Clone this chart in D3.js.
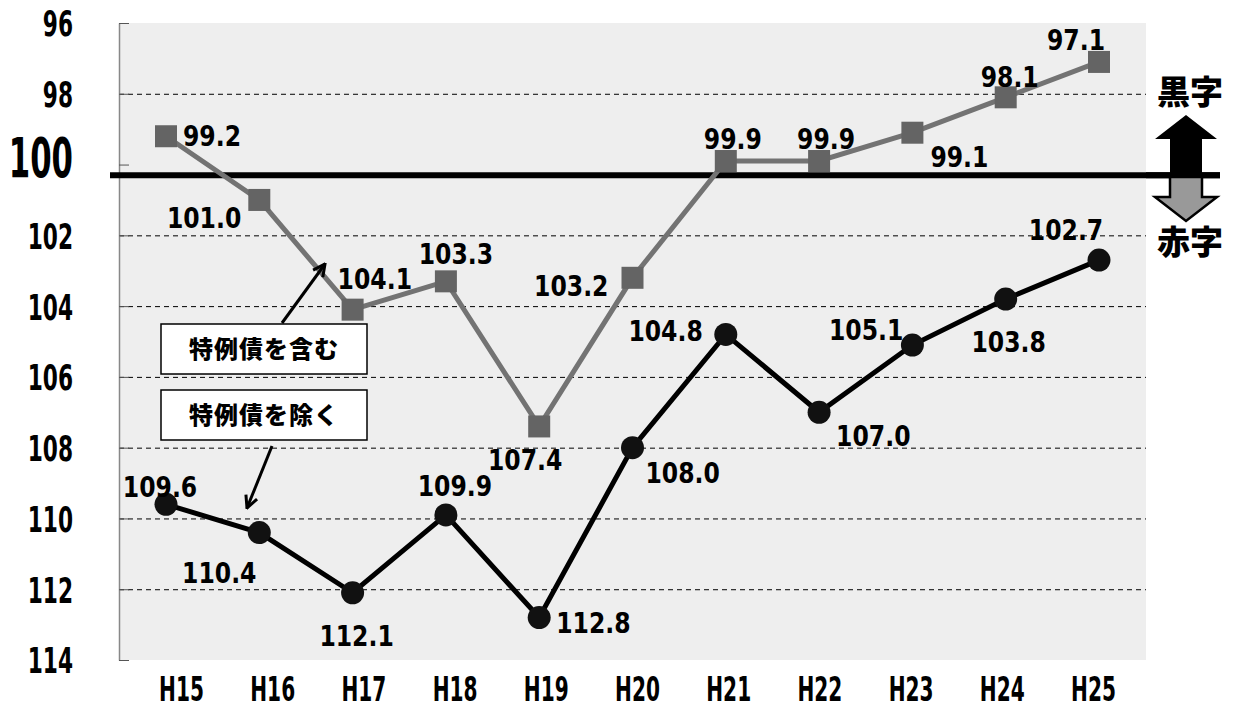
<!DOCTYPE html>
<html>
<head>
<meta charset="utf-8">
<script src="https://cdn.jsdelivr.net/npm/d3@7"></script>
<style>
  body { margin: 0; background: #fff; }
  svg { display: block; }
  .num { font-family: 'DejaVu Sans', sans-serif; }
</style>
</head>
<body>
<div id="chart"></div>
<script>
// chart values
var years = ['H15', 'H16', 'H17', 'H18', 'H19', 'H20', 'H21', 'H22', 'H23', 'H24', 'H25']
var withSpecial = [99.2, 101.0, 104.1, 103.3, 107.4, 103.2, 99.9, 99.9, 99.1, 98.1, 97.1]
var withoutSpecial = [109.6, 110.4, 112.1, 109.9, 112.8, 108.0, 104.8, 107.0, 105.1, 103.8, 102.7]
var yTicks = [96, 98, 100, 102, 104, 106, 108, 110, 112, 114]
var gridTicks = [98, 102, 104, 106, 108, 110, 112]
var seriesNames = ['特例債を含む', '特例債を除く']
var sideLabels = ['黒字', '赤字']
var splitValue = 100.3

// label placement (dx, dy, anchor) relative to each point
var posWith = [[17, 0, 'start'], [-18, 18, 'end'], [-15, -31, 'start'], [10, -27, 'middle'], [-14, 33, 'middle'],
  [-24, 8, 'end'], [7, -22, 'middle'], [7, -22, 'middle'], [18, 24, 'start'], [4, -20, 'middle'], [-23, -22, 'middle']]
var posWithout = [[-6, -17, 'middle'], [-40, 40, 'middle'], [4, 43, 'middle'], [9, -29, 'middle'], [17, 5, 'start'],
  [13, 25, 'start'], [-23, -4, 'end'], [17, 24, 'start'], [-9, -15, 'end'], [3, 43, 'middle'], [-33, -30, 'middle']]

var W = 1235, H = 708
var plotL = 119, plotR = 1146, plotT = 23, plotB = 660
var jpFont = "'Noto Sans CJK JP', sans-serif"

// squeeze text horizontally to imitate a condensed face
function squeeze(sel, k) {
  sel.each(function () {
    var len = this.getComputedTextLength()
    d3.select(this).attr('textLength', len * k).attr('lengthAdjust', 'spacingAndGlyphs')
  })
}

var svg = d3.select('#chart').append('svg')
  .attr('width', W)
  .attr('height', H)

var x = d3.scalePoint().domain(years).range([166, 1099])
var xLab = d3.scalePoint().domain(years).range([181, 1093])
var y = d3.scaleLinear().domain([96, 114]).range([plotT, plotB])

// plot background
svg.append('rect')
  .attr('x', plotL).attr('y', plotT)
  .attr('width', plotR - plotL).attr('height', plotB - plotT)
  .attr('fill', '#eeeeee')

// dashed grid
svg.append('g')
  .attr('transform', 'translate(' + plotL + ',0)')
  .call(d3.axisRight(y).tickValues(gridTicks).tickSize(plotR - plotL).tickFormat(''))
  .call(function (g) {
    g.select('.domain').remove()
    g.selectAll('line').attr('stroke', '#000').attr('stroke-width', 1).attr('stroke-dasharray', '5,4')
  })

// y axis
var yAxis = svg.append('g')
  .attr('transform', 'translate(' + plotL + ',0)')
  .call(d3.axisLeft(y).tickValues(yTicks).tickSize(-10).tickSizeOuter(0).tickPadding(46))
yAxis.select('.domain').attr('stroke', '#888').attr('stroke-width', 1.5)
yAxis.selectAll('line').attr('stroke', '#555')
yAxis.selectAll('text')
  .attr('class', 'num')
  .attr('font-family', null)
  .attr('font-weight', 'bold')
  .attr('font-size', 35)
  .attr('dy', '0.37em')
  .attr('fill', '#000')
yAxis.selectAll('.tick').filter(function (d) { return d === 100 })
  .select('text')
  .attr('font-size', 55)
  .attr('dy', '0.22em')
squeeze(yAxis.selectAll('text'), 0.62)
yAxis.selectAll('.tick').filter(function (d) { return d === 100 })
  .select('text').call(function (t) {
    var n = t.node()
    t.attr('textLength', null)
    var len = n.getComputedTextLength()
    t.attr('textLength', len * 0.56)
  })

// x labels
var xAxis = svg.append('g')
  .attr('transform', 'translate(0,' + 689 + ')')
  .call(d3.axisBottom(xLab).tickSize(0).tickPadding(0))
xAxis.select('.domain').remove()
xAxis.selectAll('text')
  .attr('class', 'num')
  .attr('font-family', null)
  .attr('font-weight', 'bold')
  .attr('font-size', 33)
  .attr('dy', '0.36em')
  .attr('fill', '#000')
squeeze(xAxis.selectAll('text'), 0.61)

// break-even line
svg.append('line')
  .attr('x1', 110).attr('x2', 1220)
  .attr('y1', y(splitValue)).attr('y2', y(splitValue))
  .attr('stroke', '#000').attr('stroke-width', 6)

var line = d3.line()
  .x(function (d, i) { return x(years[i]) })
  .y(function (d) { return y(d) })

// series with special bonds (grey squares)
svg.append('path')
  .datum(withSpecial)
  .attr('d', line)
  .attr('fill', 'none')
  .attr('stroke', '#737373')
  .attr('stroke-width', 5)

svg.selectAll('.sq')
  .data(withSpecial)
  .enter().append('rect')
  .attr('class', 'sq')
  .attr('x', function (d, i) { return x(years[i]) - 11 })
  .attr('y', function (d) { return y(d) - 11 })
  .attr('width', 22).attr('height', 22)
  .attr('fill', '#646464')

// series without special bonds (black circles)
svg.append('path')
  .datum(withoutSpecial)
  .attr('d', line)
  .attr('fill', 'none')
  .attr('stroke', '#000')
  .attr('stroke-width', 5)

svg.selectAll('.dot')
  .data(withoutSpecial)
  .enter().append('circle')
  .attr('class', 'dot')
  .attr('cx', function (d, i) { return x(years[i]) })
  .attr('cy', function (d) { return y(d) })
  .attr('r', 11.5)
  .attr('fill', '#111')

// value labels
function addLabels(values, pos) {
  var t = svg.append('g').selectAll('text')
    .data(values)
    .enter().append('text')
    .attr('class', 'num')
    .attr('x', function (d, i) { return x(years[i]) + pos[i][0] })
    .attr('y', function (d, i) { return y(d) + pos[i][1] })
    .attr('dy', '0.36em')
    .attr('text-anchor', function (d, i) { return pos[i][2] })
    .attr('font-size', 28)
    .attr('font-weight', 'bold')
    .attr('fill', '#000')
    .text(function (d) { return d3.format('.1f')(d) })
  squeeze(t, 0.84)
}
addLabels(withSpecial, posWith)
addLabels(withoutSpecial, posWithout)

// annotation arrows
svg.append('defs').append('marker')
  .attr('id', 'head')
  .attr('viewBox', '0 0 10 10')
  .attr('refX', 9).attr('refY', 5)
  .attr('markerWidth', 5).attr('markerHeight', 5)
  .attr('orient', 'auto')
  .append('path')
  .attr('d', 'M1,1 L9,5 L1,9')
  .attr('fill', 'none')
  .attr('stroke', '#000')
  .attr('stroke-width', 2)

svg.append('line')
  .attr('x1', 282).attr('y1', 323).attr('x2', 325).attr('y2', 264)
  .attr('stroke', '#000').attr('stroke-width', 3)
  .attr('marker-end', 'url(#head)')
svg.append('line')
  .attr('x1', 272).attr('y1', 446).attr('x2', 247).attr('y2', 508)
  .attr('stroke', '#000').attr('stroke-width', 3)
  .attr('marker-end', 'url(#head)')

// legend boxes
var boxes = svg.append('g').selectAll('g')
  .data(seriesNames)
  .enter().append('g')
  .attr('transform', function (d, i) { return 'translate(161,' + (324 + i * 66) + ')' })
boxes.append('rect')
  .attr('width', 206).attr('height', 50)
  .attr('fill', '#fff')
  .attr('stroke', '#000').attr('stroke-width', 1.5)
boxes.append('text')
  .attr('x', 103).attr('y', 26)
  .attr('dy', '0.35em')
  .attr('text-anchor', 'middle')
  .attr('font-family', jpFont)
  .attr('font-weight', 900)
  .attr('font-size', 24)
  .attr('letter-spacing', 1)
  .text(function (d) { return d })

// surplus / deficit marker on the right
var side = svg.append('g')
side.selectAll('text')
  .data(sideLabels)
  .enter().append('text')
  .attr('x', 1190)
  .attr('y', function (d, i) { return i === 0 ? 92 : 242 })
  .attr('dy', '0.35em')
  .attr('text-anchor', 'middle')
  .attr('font-family', jpFont)
  .attr('font-weight', 900)
  .attr('font-size', 33)
  .text(function (d) { return d })

var cx = 1186, sy = y(splitValue)
side.append('path')
  .attr('d', 'M' + cx + ',115 L' + (cx + 31) + ',139 L' + (cx + 16) + ',139 L' + (cx + 16) + ',' + sy +
    ' L' + (cx - 16) + ',' + sy + ' L' + (cx - 16) + ',139 L' + (cx - 31) + ',139 Z')
  .attr('fill', '#000')
side.append('path')
  .attr('d', 'M' + (cx - 16) + ',' + sy + ' L' + (cx + 16) + ',' + sy + ' L' + (cx + 16) + ',197 L' + (cx + 31) + ',197 L' +
    cx + ',221 L' + (cx - 31) + ',197 L' + (cx - 16) + ',197 Z')
  .attr('fill', '#999')
  .attr('stroke', '#000')
  .attr('stroke-width', 2.5)
  .attr('stroke-linejoin', 'miter')
side.append('line')
  .attr('x1', 1146).attr('x2', 1220)
  .attr('y1', sy).attr('y2', sy)
  .attr('stroke', '#000').attr('stroke-width', 6)
</script>
</body>
</html>
